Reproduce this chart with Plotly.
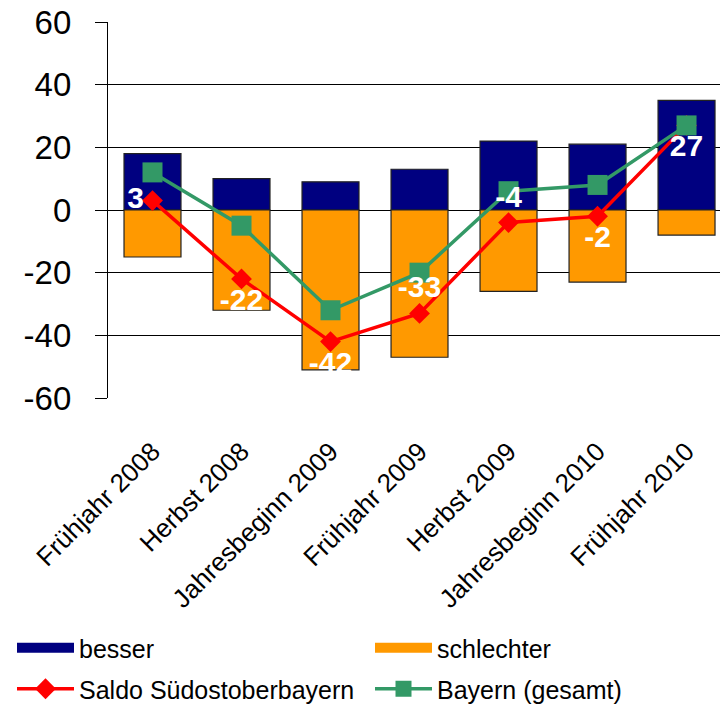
import plotly.graph_objects as go

categories = ["Frühjahr 2008", "Herbst 2008", "Jahresbeginn 2009", "Frühjahr 2009",
              "Herbst 2009", "Jahresbeginn 2010", "Frühjahr 2010"]
besser = [18, 10, 9, 13, 22, 21, 35]
schlechter = [-15, -32, -51, -47, -26, -23, -8]
saldo = [3, -22, -42, -33, -4, -2, 27]
bayern = [12, -5, -32, -20, 6, 8, 27]
saldo_label_pos = ["middle left", "bottom center", "bottom center", "top center",
                   "top center", "bottom center", "bottom center"]
y_ticks = [-60, -40, -20, 0, 20, 40, 60]
y_tick_labels = ["-60", "-40", "-20", "0", "20", "40", "60"]

FONT = "Liberation Sans, Arial, sans-serif"
NAVY = "#000080"
ORANGE = "#FF9900"

fig = go.Figure()
fig.add_trace(go.Bar(x=categories, y=besser, name="besser", width=0.64, showlegend=False,
                     marker=dict(color=NAVY, line=dict(color="#222222", width=1.2))))
fig.add_trace(go.Bar(x=categories, y=schlechter, name="schlechter", width=0.64, showlegend=False,
                     marker=dict(color=ORANGE, line=dict(color="#222222", width=1.2))))
fig.add_trace(go.Scatter(x=categories, y=saldo, name="Saldo Südostoberbayern",
                         mode="lines+markers",
                         line=dict(color="#FF0000", width=3.5),
                         marker=dict(symbol="diamond", size=16, color="#FF0000"),
                         legend="legend3"))
fig.add_trace(go.Scatter(x=categories, y=bayern, name="Bayern (gesamt)",
                         mode="lines+markers",
                         line=dict(color="#339966", width=3.5),
                         marker=dict(symbol="square", size=20, color="#339966"),
                         legend="legend4"))
fig.add_trace(go.Scatter(x=categories, y=saldo, mode="markers+text", text=[str(v) for v in saldo],
                         textposition=saldo_label_pos, showlegend=False, hoverinfo="skip",
                         cliponaxis=False,
                         marker=dict(size=12, opacity=0),
                         textfont=dict(family=FONT, size=30, color="white", weight="bold")))
# legend keys for the bar series (wide boxes like the original)
fig.add_trace(go.Scatter(x=[None], y=[None], name="besser", mode="lines",
                         line=dict(color=NAVY, width=17), legend="legend"))
fig.add_trace(go.Scatter(x=[None], y=[None], name="schlechter", mode="lines",
                         line=dict(color=ORANGE, width=17), legend="legend2"))

leg_common = dict(orientation="h", xref="container", yref="container",
                  xanchor="left", yanchor="middle", itemwidth=57,
                  font=dict(size=25), bgcolor="rgba(0,0,0,0)")

fig.update_layout(
    width=720, height=705,
    margin=dict(l=108, r=0, t=22, b=307, autoexpand=False),
    paper_bgcolor="white", plot_bgcolor="white",
    barmode="relative",
    font=dict(family=FONT, color="black"),
    xaxis=dict(type="category", range=[-0.5, 6.376], showgrid=False, showline=False,
               automargin=False,
               ticks="", tickangle=-45, tickfont=dict(size=26), ticklabelstandoff=32),
    xaxis2=dict(overlaying="x", anchor="free", position=0.5, range=[-0.5, 6.376],
                automargin=False,
                showgrid=False, zeroline=False, showline=True, linecolor="black", linewidth=1.2,
                ticks="outside", tickvals=[0.5, 1.5, 2.5, 3.5, 4.5, 5.5], ticklen=5,
                tickcolor="black", showticklabels=False),
    yaxis=dict(range=[-60, 60], tickvals=y_ticks, ticktext=y_tick_labels,
               automargin=False,
               showgrid=True, gridcolor="black", gridwidth=1,
               zeroline=True, zerolinecolor="black", zerolinewidth=1.2,
               showline=True, linecolor="black", linewidth=1.2,
               ticks="outside", ticklen=12, tickcolor="black",
               tickfont=dict(size=33), ticklabelstandoff=17),
    legend=dict(x=12 / 720, y=1 - 648 / 705, **leg_common),
    legend2=dict(x=370 / 720, y=1 - 648 / 705, **leg_common),
    legend3=dict(x=12 / 720, y=1 - 689 / 705, **leg_common),
    legend4=dict(x=370 / 720, y=1 - 689 / 705, **leg_common),
)

fig.write_html("out.html", config={"displayModeBar": False},
               post_script="document.body.style.margin='0';document.body.style.overflow='hidden';")
